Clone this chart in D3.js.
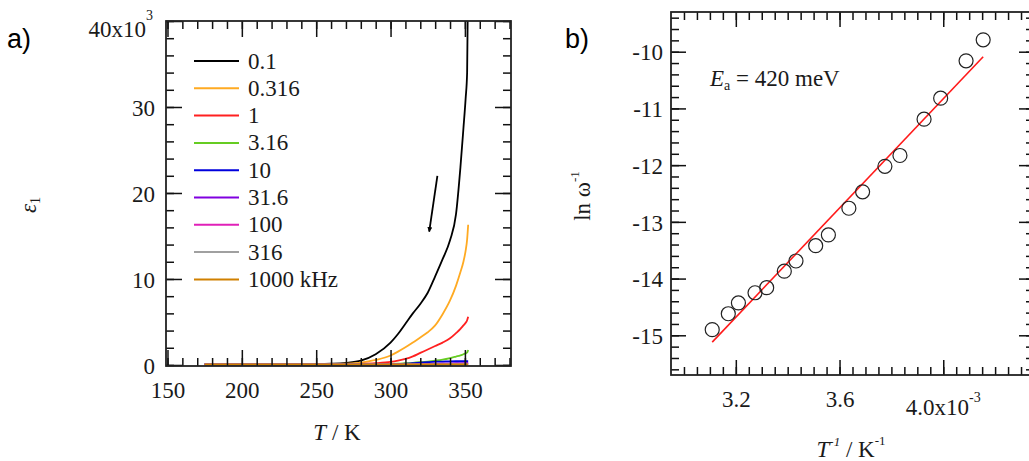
<!DOCTYPE html>
<html>
<head>
<meta charset="utf-8">
<script src="https://cdn.jsdelivr.net/npm/d3@7"></script>
<style>
  body { margin: 0; background: #fff; }
  svg { display: block; }
  text { font-family: "Liberation Serif", "Times New Roman", serif; font-size: 23px; fill: #1a1a1a; }
  .panel-tag { font-family: "Liberation Sans", Arial, sans-serif; font-size: 27px; fill: #000; }
</style>
</head>
<body>
<div id="app"></div>
<script>
// ---- panel a: eps1 vs T for several frequencies (values in 10^3) ----
const temps = [175, 200, 225, 250, 260, 270, 280, 290, 300, 305, 310, 315, 320, 325, 330, 335, 340, 344, 347, 349, 350.5, 351.5, 352.2];
const eps_0_1   = [0.06, 0.06, 0.07, 0.1, 0.14, 0.24, 0.5, 1.25, 2.6, 3.6, 4.8, 6.0, 7.1, 8.4, 10.3, 12.3, 14.5, 17.5, 23, 27.5, 31, 34, 46];
const eps_0_316 = [0.06, 0.06, 0.06, 0.08, 0.1, 0.14, 0.26, 0.58, 1.1, 1.55, 2.05, 2.6, 3.2, 3.8, 4.6, 5.9, 7.5, 9.2, 10.8, 12.0, 13.3, 14.6, 16.3];
const eps_1     = [0.06, 0.06, 0.06, 0.06, 0.07, 0.08, 0.12, 0.2, 0.35, 0.5, 0.7, 1.0, 1.4, 1.8, 2.2, 2.6, 3.1, 3.7, 4.2, 4.6, 4.9, 5.2, 5.6];
const eps_3_16  = [0.06, 0.06, 0.06, 0.06, 0.06, 0.06, 0.07, 0.09, 0.12, 0.15, 0.2, 0.25, 0.32, 0.4, 0.5, 0.62, 0.8, 0.98, 1.12, 1.25, 1.35, 1.45, 1.75];
const eps_10    = [0.06, 0.06, 0.06, 0.06, 0.06, 0.06, 0.06, 0.06, 0.07, 0.1, 0.15, 0.2, 0.27, 0.33, 0.38, 0.4, 0.42, 0.43, 0.44, 0.44, 0.45, 0.45, 0.45];
const eps_31_6  = [0.06, 0.06, 0.06, 0.06, 0.06, 0.06, 0.06, 0.06, 0.06, 0.07, 0.08, 0.09, 0.11, 0.13, 0.15, 0.17, 0.19, 0.2, 0.21, 0.22, 0.22, 0.23, 0.23];
const eps_100   = [0.06, 0.06, 0.06, 0.06, 0.06, 0.06, 0.06, 0.06, 0.06, 0.06, 0.07, 0.07, 0.08, 0.09, 0.1, 0.11, 0.12, 0.13, 0.13, 0.14, 0.14, 0.14, 0.14];
const eps_316   = [0.06, 0.06, 0.06, 0.06, 0.06, 0.06, 0.06, 0.06, 0.06, 0.06, 0.06, 0.06, 0.07, 0.07, 0.08, 0.08, 0.09, 0.1, 0.1, 0.1, 0.1, 0.1, 0.1];
const eps_1000  = [0.06, 0.06, 0.06, 0.06, 0.06, 0.06, 0.06, 0.06, 0.06, 0.06, 0.06, 0.06, 0.06, 0.06, 0.06, 0.07, 0.07, 0.07, 0.08, 0.08, 0.08, 0.08, 0.08];
const freqLabels = ["0.1", "0.316", "1", "3.16", "10", "31.6", "100", "316", "1000 kHz"];
const freqColors = ["#000000", "#ffaa22", "#ff2020", "#66cc22", "#0000dd", "#8000e0", "#e020b8", "#a0a0a0", "#d08000"];
const tTicks = [150, 200, 250, 300, 350];
const epsTicks = [0, 10, 20, 30, 40];
const arrowT = [331.5, 326];
const arrowEps = [22, 15.5];

// ---- panel b: Arrhenius plot ----
const invT = [3.109, 3.171, 3.210, 3.274, 3.319, 3.387, 3.432, 3.508, 3.557, 3.636, 3.689, 3.775, 3.833, 3.926, 3.990, 4.088, 4.154];
const lnTau = [-14.90, -14.62, -14.43, -14.25, -14.16, -13.87, -13.69, -13.42, -13.23, -12.76, -12.47, -12.02, -11.83, -11.19, -10.82, -10.16, -9.79];
const fitX = [3.109, 4.154];
const fitY = [-15.12, -10.09];
const invTTicks = [3.2, 3.6, 4.0];
const lnTicks = [-15, -14, -13, -12, -11, -10];

const width = 1029;
const height = 461;

const svg = d3.select("#app").append("svg").attr("width", width).attr("height", height);

// frame with inward major/minor ticks on all four sides
function frame(g, x, y, o) {
  const [x0, x1] = x.range();
  const [y0, y1] = y.range();
  const sides = [
    [d3.axisBottom, x, `translate(0,${y0})`, o.xMajor, o.xMinor, o.xFmt],
    [d3.axisTop, x, `translate(0,${y1})`, o.xMajor, o.xMinor, null],
    [d3.axisLeft, y, `translate(${x0},0)`, o.yMajor, o.yMinor, o.yFmt],
    [d3.axisRight, y, `translate(${x1},0)`, o.yMajor, o.yMinor, null]
  ];
  sides.forEach(([ax, s, tr, maj, min, fmt]) => {
    g.append("g").attr("transform", tr)
      .call(ax(s).tickValues(min).tickSize(-o.minor).tickFormat(""))
      .call(a => a.select(".domain").remove());
    g.append("g").attr("transform", tr)
      .call(ax(s).tickValues(maj).tickSize(-o.major).tickPadding(ax === d3.axisLeft ? o.padY : 16)
        .tickFormat(fmt || (() => "")))
      .call(a => a.select(".domain").remove())
      .call(a => a.selectAll("text").attr("font-size", null).attr("font-family", null)
        .attr("dy", ax === d3.axisLeft ? "0.36em" : "0.71em"));
  });
  g.selectAll(".tick line").attr("stroke", "#111").attr("stroke-width", 1.5);
  g.append("rect")
    .attr("x", x0).attr("y", y1)
    .attr("width", x1 - x0).attr("height", y0 - y1)
    .attr("fill", "none").attr("stroke", "#222").attr("stroke-width", 1.8);
}

// ================= panel a =================
const xa = d3.scaleLinear().domain([149, 381]).range([166, 511]);
const ya = d3.scaleLinear().domain([-0.12, 40]).range([366, 21]);

const ga = svg.append("g");
ga.append("clipPath").attr("id", "clipA")
  .append("rect").attr("x", 166).attr("y", 21).attr("width", 345).attr("height", 345);

const seriesA = [eps_0_1, eps_0_316, eps_1, eps_3_16, eps_10, eps_31_6, eps_100, eps_316, eps_1000]
  .map((vals, i) => ({ label: freqLabels[i], color: freqColors[i], pts: temps.map((t, j) => [t, vals[j]]) }));

const lineA = d3.line().x(d => xa(d[0])).y(d => ya(d[1])).curve(d3.curveMonotoneX);
ga.append("g").attr("clip-path", "url(#clipA)")
  .selectAll("path").data(seriesA).join("path")
  .attr("d", d => lineA(d.pts))
  .attr("fill", "none").attr("stroke", d => d.color).attr("stroke-width", 1.8);

frame(ga, xa, ya, {
  xMajor: tTicks, xMinor: d3.range(150, 381, 10),
  yMajor: epsTicks, yMinor: d3.range(0, 40.1, 2),
  xFmt: d3.format("d"), yFmt: d => (d === 40 ? "" : d3.format("d")(d)),
  major: 16, minor: 8, padY: 11
});

// top label 40x10^3
const t40 = ga.append("text").attr("x", 153).attr("y", 37).attr("text-anchor", "end");
t40.append("tspan").text("40x10");
t40.append("tspan").attr("font-size", 14).attr("dy", -17).text("3");

// arrow
ga.append("defs").append("marker")
  .attr("id", "head").attr("viewBox", "0 0 10 10").attr("refX", 9).attr("refY", 5)
  .attr("markerWidth", 5).attr("markerHeight", 7).attr("orient", "auto")
  .attr("markerUnits", "userSpaceOnUse")
  .append("path").attr("d", "M0,0L10,5L0,10Z").attr("fill", "#000");
ga.append("line")
  .attr("x1", xa(arrowT[0])).attr("y1", ya(arrowEps[0]))
  .attr("x2", xa(arrowT[1])).attr("y2", ya(arrowEps[1]))
  .attr("stroke", "#000").attr("stroke-width", 1.8)
  .attr("marker-end", "url(#head)");

// legend
const leg = ga.append("g").selectAll("g").data(seriesA).join("g")
  .attr("transform", (d, i) => `translate(194,${61 + i * 27.3})`);
leg.append("line").attr("x1", 0).attr("x2", 45)
  .attr("stroke", d => d.color).attr("stroke-width", 2);
leg.append("text").attr("x", 54).attr("y", 7.5).text(d => d.label);

// axis titles
const tA = ga.append("text").attr("x", 337).attr("y", 440).attr("text-anchor", "middle");
tA.append("tspan").attr("font-style", "italic").text("T");
tA.append("tspan").text(" / K");

const eA = ga.append("text").attr("transform", "translate(36,205) rotate(-90)").attr("text-anchor", "middle");
eA.append("tspan").attr("font-style", "italic").text("ε");
eA.append("tspan").attr("font-size", 14).attr("dy", 4).text("1");

svg.append("text").attr("class", "panel-tag").attr("x", 7).attr("y", 48).text("a)");

// ================= panel b =================
const xb = d3.scaleLinear().domain([2.95, 4.35]).range([671, 1034]);
const yb = d3.scaleLinear().domain([-15.7, -9.3]).range([375, 12]);
const gb = svg.append("g");

frame(gb, xb, yb, {
  xMajor: invTTicks, xMinor: d3.range(3.0, 4.351, 0.05),
  yMajor: lnTicks, yMinor: d3.range(-15.6, -9.35, 0.2),
  xFmt: d => (Math.abs(d - 4.0) < 1e-9 ? "" : d3.format(".1f")(d)), yFmt: d3.format("d"),
  major: 15, minor: 8, padY: 8
});
gb.selectAll("text").filter(function () { return this.textContent.startsWith("−"); })
  .text(function () { return this.textContent.replace("−", "-"); });

const t4 = gb.append("text").attr("x", xb(4.0)).attr("y", 415).attr("text-anchor", "middle");
t4.append("tspan").text("4.0x10");
t4.append("tspan").attr("font-size", 14).attr("dy", -13).text("-3");

gb.append("line")
  .attr("x1", xb(fitX[0])).attr("y1", yb(fitY[0]))
  .attr("x2", xb(fitX[1])).attr("y2", yb(fitY[1]))
  .attr("stroke", "#ff1a1a").attr("stroke-width", 1.6);

gb.selectAll("circle").data(invT).join("circle")
  .attr("cx", d => xb(d)).attr("cy", (d, i) => yb(lnTau[i]))
  .attr("r", 7).attr("fill", "none").attr("stroke", "#222").attr("stroke-width", 1.2);

const ea = gb.append("text").attr("x", 710).attr("y", 86);
ea.append("tspan").attr("font-style", "italic").text("E");
ea.append("tspan").attr("font-size", 14).attr("dy", 4).text("a");
ea.append("tspan").attr("dy", -4).text(" = 420 meV");

const tB = gb.append("text").attr("x", 851).attr("y", 457).attr("text-anchor", "middle");
tB.append("tspan").attr("font-style", "italic").text("T");
tB.append("tspan").attr("font-size", 13).attr("font-style", "italic").attr("dy", -11).text("-1");
tB.append("tspan").attr("dy", 11).text(" / K");
tB.append("tspan").attr("font-size", 13).attr("dy", -12).text("-1");

const lB = gb.append("text").attr("transform", "translate(590,196) rotate(-90)").attr("text-anchor", "middle");
lB.append("tspan").text("ln ω");
lB.append("tspan").attr("font-size", 13).attr("dy", -11).text("-1");

svg.append("text").attr("class", "panel-tag").attr("x", 565).attr("y", 48).text("b)");
</script>
</body>
</html>
